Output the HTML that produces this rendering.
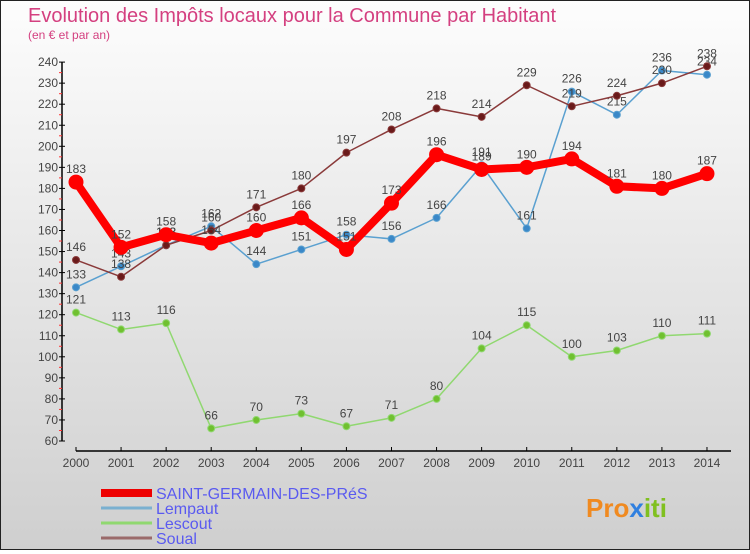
<!DOCTYPE html>
<html><head><meta charset="utf-8"><style>
body{margin:0;width:750px;height:550px;overflow:hidden;font-family:"Liberation Sans",sans-serif}
#c{position:absolute;left:0;top:0;width:748px;height:548px;border:1px solid #222;background:linear-gradient(#fdfdfd,#cfcfcf)}
</style></head><body>
<div id="c">
<svg id="s" width="748" height="548" xmlns="http://www.w3.org/2000/svg">
<text x="27" y="21" font-size="20" fill="#d44080">Evolution des Impôts locaux pour la Commune par Habitant</text>
<text x="27" y="38" font-size="12" fill="#d44080">(en € et par an)</text>
<text x="585" y="516" font-size="26" font-weight="bold" fill="#f08a20">Pro<tspan fill="#3080e0">x</tspan><tspan fill="#80c020">iti</tspan></text>
</svg></div>
<script>
const years=[2000,2001,2002,2003,2004,2005,2006,2007,2008,2009,2010,2011,2012,2013,2014];
const yTicks=[60,70,80,90,100,110,120,130,140,150,160,170,180,190,200,210,220,230,240];
const sgdp=[183,152,158,154,160,166,151,173,196,189,190,194,181,180,187];
const lempaut=[133,143,153,162,144,151,158,156,166,191,161,226,215,236,234];
const lescout=[121,113,116,66,70,73,67,71,80,104,115,100,103,110,111];
const soual=[146,138,153,160,171,180,197,208,218,214,229,219,224,230,238];
const s=document.getElementById('s');const NS='http://www.w3.org/2000/svg';
const X=i=>75+i*45.07, Y=v=>440-(v-60)*2.105;
function mk(t,a,p){const e=document.createElementNS(NS,t);for(const k in a)e.setAttribute(k,a[k]);(p||s).appendChild(e);return e;}
let ax=mk('line',{x1:61,y1:Y(240),x2:61,y2:440,stroke:'#000','stroke-width':1.5});


let bx=mk('line',{x1:X(0),y1:450,x2:730,y2:450,stroke:'#000','stroke-width':1.5});


yTicks.forEach(v=>{mk('line',{x1:58,y1:Y(v),x2:64,y2:Y(v),stroke:'#000'});
 if(v<240)mk('line',{x1:58,y1:Y(v+5),x2:61,y2:Y(v+5),stroke:'#f33'});
 const t=mk('text',{x:57,y:Y(v)+4,'font-size':12,fill:'#444','text-anchor':'end'});t.textContent=v;
 
 });
years.forEach((yr,i)=>{mk('line',{x1:X(i),y1:446,x2:X(i),y2:450,stroke:'#000'});
 const t=mk('text',{x:X(i),y:466,'font-size':12,fill:'#444','text-anchor':'middle'});t.textContent=yr;
 
 });
function series(d,col,w,r,name,dot){const g=mk('g',{});
 
 
 mk('polyline',{points:d.map((v,i)=>X(i)+','+Y(v)).join(' '),fill:'none',stroke:col,'stroke-width':w,'stroke-linejoin':'round'},g);
 d.forEach((v,i)=>{mk('circle',{cx:X(i),cy:Y(v),r:r,fill:dot,stroke:col,'stroke-width':1},g);
  const t=mk('text',{x:X(i),y:Y(v)-9,'font-size':12,fill:'#444','text-anchor':'middle'},g);t.textContent=v;});}
series(lescout,'#90d870',1.5,3.5,'series-lescout','#70c030');
series(lempaut,'#5aa0d0',1.5,3.5,'series-lempaut','#3a88c8');
series(soual,'#8a3a3a',1.5,3.5,'series-soual','#6a1a1a');
series(sgdp,'#f00',8,7,'series-saint-germain','#f00');
const leg=[['SAINT-GERMAIN-DES-PRéS','#e00',8],['Lempaut','#7ab0d0',3],['Lescout','#90d870',3],['Soual','#9a6a6a',3]];
leg.forEach((l,i)=>{const y=492+i*15;const g=mk('g',{});
 
 
 mk('line',{x1:100,y1:y,x2:151,y2:y,stroke:l[1],'stroke-width':l[2]},g);
 const t=mk('text',{x:155,y:y+6,'font-size':16,fill:'#5a5af0'},g);t.textContent=l[0];});
</script></body></html>
